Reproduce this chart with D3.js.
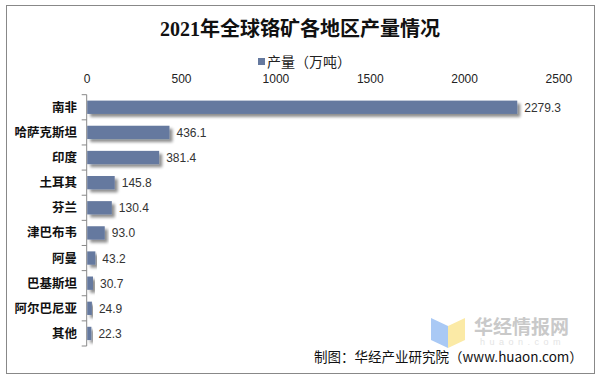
<!DOCTYPE html>
<html><head><meta charset="utf-8">
<script src="https://cdn.jsdelivr.net/npm/d3@7"></script>
<style>body{margin:0;background:#fff}svg{display:block}</style>
</head><body>
<svg id="c" width="601" height="379"></svg>
<script>
const categories = ["南非","哈萨克斯坦","印度","土耳其","芬兰","津巴布韦","阿曼","巴基斯坦","阿尔巴尼亚","其他"];
const values = [2279.3,436.1,381.4,145.8,130.4,93.0,43.2,30.7,24.9,22.3];
const ticks = [0,500,1000,1500,2000,2500];
const title = "2021年全球铬矿各地区产量情况";
const legendLabel = "产量（万吨）";
const source = "制图：华经产业研究院（www.huaon.com）";

const svg = d3.select("#c");
const sans = "'Liberation Sans', Arial, 'Noto Sans CJK SC', sans-serif";
const barColor = "#65799f";

const defs = svg.append("defs");
const f = defs.append("filter").attr("id","sh").attr("x","-10%").attr("y","-30%").attr("width","130%").attr("height","180%");
f.append("feGaussianBlur").attr("in","SourceAlpha").attr("stdDeviation",1.6).attr("result","b");
f.append("feOffset").attr("in","b").attr("dx",2.5).attr("dy",2.5).attr("result","o");
f.append("feComponentTransfer").attr("in","o").attr("result","o2").append("feFuncA").attr("type","linear").attr("slope",0.45);
const m = f.append("feMerge"); m.append("feMergeNode").attr("in","o2"); m.append("feMergeNode").attr("in","SourceGraphic");

svg.append("rect").attr("x",6.5).attr("y",5.5).attr("width",588).attr("height",368)
  .attr("fill","#fff").attr("stroke","#888").attr("stroke-width",1);

svg.append("text").attr("x",300).attr("y",36).attr("text-anchor","middle")
  .attr("font-family","'Liberation Serif','Noto Sans CJK SC',serif").attr("font-weight","bold")
  .attr("font-size",20).attr("fill","#111").text(title);

svg.append("rect").attr("x",258).attr("y",58).attr("width",7).attr("height",7).attr("fill",barColor);
svg.append("text").attr("x",267).attr("y",66.5).attr("font-family","'Noto Sans CJK SC',sans-serif")
  .attr("font-size",14).attr("fill","#222").text(legendLabel);

const x = d3.scaleLinear().domain([0,2500]).range([86.7,558.4]);
const y = d3.scaleBand().domain(categories).range([94.7,346]).paddingInner(0.47).paddingOuter(0.235);

// top tick labels
const xa = svg.append("g").attr("transform","translate(0,83)")
  .call(d3.axisTop(x).tickValues(ticks).tickSize(0).tickPadding(0).tickFormat(d3.format("d")));
xa.select(".domain").remove();
xa.selectAll("text").attr("font-family",sans).attr("font-size",12).attr("fill","#222");

// left axis
const step = y.step();
const ya = svg.append("g").attr("transform","translate(86.7,0)");
ya.append("line").attr("x1",0).attr("x2",0).attr("y1",94.7).attr("y2",346).attr("stroke","#888");
d3.range(categories.length+1).forEach(i=>{
  ya.append("line").attr("x1",-5).attr("x2",0).attr("y1",94.7+i*step).attr("y2",94.7+i*step).attr("stroke","#888");
});
svg.append("g").selectAll("text").data(categories).join("text")
  .attr("x",77).attr("y",d=>y(d)+y.bandwidth()/2+4.5).attr("text-anchor","end")
  .attr("font-family","'Noto Sans CJK SC',sans-serif").attr("font-weight","bold").attr("font-size",12.5)
  .attr("fill","#111").text(d=>d);

svg.append("g").selectAll("rect").data(values).join("rect")
  .attr("x",x(0)+0.5).attr("y",(d,i)=>y(categories[i]))
  .attr("width",d=>x(d)-x(0)).attr("height",y.bandwidth())
  .attr("fill",barColor).attr("filter","url(#sh)");

svg.append("g").selectAll("text").data(values).join("text")
  .attr("x",d=>x(d)+7.5).attr("y",(d,i)=>y(categories[i])+y.bandwidth()/2+4.5)
  .attr("font-family",sans).attr("font-size",12).attr("fill","#333")
  .text(d=>d.toFixed(1));

// watermark
const wm = svg.append("g");
wm.append("path").attr("d","M431,318 L448,326 L448,348 L431,340 Z").attr("fill","#a9c9f5");
wm.append("path").attr("d","M448,326 L465,318 L465,340 L448,348 Z").attr("fill","#fbeaa6");
wm.append("text").attr("x",474).attr("y",334).attr("font-family","'Noto Sans CJK SC',sans-serif")
  .attr("font-weight","bold").attr("font-size",19).attr("fill","#c9c9c9").text("华经情报网");
wm.append("text").attr("x",480).attr("y",344.5).attr("font-family",sans)
  .attr("font-size",9).attr("letter-spacing",4.5).attr("fill","#e4e4e4").text("huaon.com");

svg.append("text").attr("x",314).attr("y",362).attr("font-family","'Noto Sans CJK SC',sans-serif")
  .attr("font-size",13.5).attr("fill","#111").text(source);
</script>
</body></html>
